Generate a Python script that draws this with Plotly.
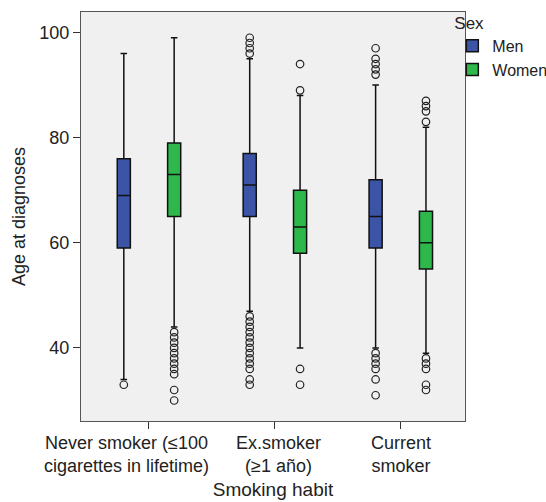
import plotly.graph_objects as go

categories = ["Never smoker", "Ex.smoker", "Current smoker"]
tick_labels = [
    "Never smoker (≤100<br>cigarettes in lifetime)",
    "Ex.smoker<br>(≥1 año)",
    "Current<br>smoker",
]
label_shift = [-22, 4, 0]

men_q1 = [59, 65, 59]
men_median = [69, 71, 65]
men_q3 = [76, 77, 72]
men_low = [34, 47, 40]
men_high = [96, 95, 90]
men_outliers = [
    [33],
    [99, 98, 97, 96, 46, 45, 44, 43, 42, 41, 40, 39, 38, 37, 36, 34, 33],
    [97, 95, 94, 93, 92, 39, 38, 37, 36, 34, 31],
]

women_q1 = [65, 58, 55]
women_median = [73, 63, 60]
women_q3 = [79, 70, 66]
women_low = [44, 40, 39]
women_high = [99, 88, 82]
women_outliers = [
    [43, 42, 41, 40, 39, 38, 37, 36, 35, 32, 30],
    [94, 89, 36, 33],
    [87, 86, 85, 83, 38, 37, 36, 33, 32],
]

men_color = "#3b54a6"
women_color = "#2eb84b"

font_family = "Liberation Sans, Arial, sans-serif"

fig = go.Figure()


def add_group(name, color, q1, med, q3, low, high, outl):
    fig.add_trace(go.Box(
        name=name,
        x=categories,
        y=outl,
        q1=q1, median=med, q3=q3,
        lowerfence=low, upperfence=high,
        boxpoints="outliers",
        pointpos=0,
        jitter=0,
        fillcolor=color,
        line=dict(color="#111111", width=1.5),
        marker=dict(symbol="circle-open", size=7.5, color="#222222",
                    line=dict(width=1.2, color="#222222")),
        whiskerwidth=0.5,
    ))


add_group("Men", men_color, men_q1, men_median, men_q3, men_low, men_high, men_outliers)
add_group("Women", women_color, women_q1, women_median, women_q3, women_low, women_high, women_outliers)

for cat, lab, sh in zip(categories, tick_labels, label_shift):
    fig.add_annotation(
        x=cat, xref="x", y=0, yref="paper",
        text=lab, showarrow=False,
        xanchor="center", yanchor="top", align="center",
        xshift=sh, yshift=-10,
        font=dict(size=18, color="#222222"),
    )

fig.update_layout(
    width=546, height=502,
    margin=dict(l=81, r=81, t=12, b=81, autoexpand=False),
    boxmode="group",
    boxgap=0.2,
    boxgroupgap=0.74,
    paper_bgcolor="white",
    plot_bgcolor="#f0f0f0",
    font=dict(family=font_family, size=18, color="#222222"),
    legend=dict(
        title=dict(text="Sex", font=dict(size=17)),
        x=0.967, xanchor="left", y=1.013, yanchor="top",
        itemwidth=30,
        bgcolor="rgba(0,0,0,0)",
        font=dict(size=16),
        tracegroupgap=0,
    ),
    xaxis=dict(
        title=dict(text="Smoking habit", font=dict(size=19), standoff=54),
        type="category",
        range=[-0.54, 2.51],
        showticklabels=False,
        automargin=True,
        showgrid=False, zeroline=False,
        showline=True, linecolor="#555555", linewidth=1.3, mirror=True,
        ticks="outside", ticklen=7, tickcolor="#333333",
    ),
    yaxis=dict(
        title=dict(text="\u00a0" * 10 + "Age at diagnoses", font=dict(size=18), standoff=8),
        range=[26.1, 103.9],
        tickvals=[40, 60, 80, 100],
        automargin=True,
        showgrid=False, zeroline=False,
        showline=True, linecolor="#555555", linewidth=1.3, mirror=True,
        ticks="outside", ticklen=7, tickcolor="#333333",
    ),
)

fig.write_html("out.html", config={"displayModeBar": False},
               post_script="document.body.style.margin='0';")
